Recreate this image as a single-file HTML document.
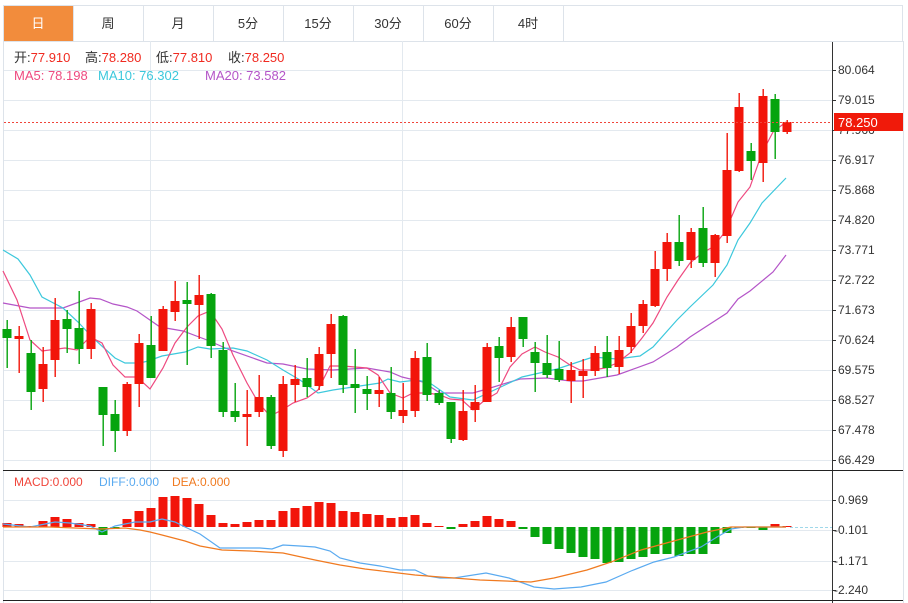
<!DOCTYPE html>
<html><head><meta charset="utf-8"><style>
html,body{margin:0;padding:0;background:#fff;width:908px;height:603px;overflow:hidden}
svg{display:block;font-family:"Liberation Sans","Noto Sans CJK SC",sans-serif}
</style></head><body>
<svg id="s" width="908" height="603" viewBox="0 0 908 603" xmlns="http://www.w3.org/2000/svg">
<rect x="0" y="0" width="908" height="603" fill="#fff"/>
<rect x="3.5" y="5.5" width="899" height="36" fill="#fff" stroke="#dde3ea"/>
<rect x="4" y="6" width="69" height="35" fill="#f28c3c"/>
<g stroke="#dde3ea"><line x1="73.5" y1="6" x2="73.5" y2="41"/><line x1="143.5" y1="6" x2="143.5" y2="41"/><line x1="213.5" y1="6" x2="213.5" y2="41"/><line x1="283.5" y1="6" x2="283.5" y2="41"/><line x1="353.5" y1="6" x2="353.5" y2="41"/><line x1="423.5" y1="6" x2="423.5" y2="41"/><line x1="493.5" y1="6" x2="493.5" y2="41"/><line x1="563.5" y1="6" x2="563.5" y2="41"/></g>
<g font-size="13" text-anchor="middle" fill="#333"><text x="38" y="28" fill="#fff">日</text><text x="108" y="28">周</text><text x="178" y="28">月</text><text x="248" y="28">5分</text><text x="318" y="28">15分</text><text x="388" y="28">30分</text><text x="458" y="28">60分</text><text x="528" y="28">4时</text></g>
<line x1="3.5" y1="41" x2="3.5" y2="603" stroke="#dde3ea"/>
<line x1="903.5" y1="41" x2="903.5" y2="603" stroke="#dde3ea"/>
<line x1="150.5" y1="41" x2="150.5" y2="603" stroke="#e3e9ef"/>
<line x1="402.5" y1="41" x2="402.5" y2="603" stroke="#e3e9ef"/>
<g id="grid" stroke="#e3e9ef"></g>
<line x1="832.5" y1="42" x2="832.5" y2="603" stroke="#333"/>
<g font-size="12" fill="#333" id="ylab">
<text x="838" y="74">80.064</text><text x="838" y="104">79.015</text><text x="838" y="134">77.966</text><text x="838" y="164">76.917</text><text x="838" y="194">75.868</text><text x="838" y="224">74.820</text><text x="838" y="254">73.771</text><text x="838" y="284">72.722</text><text x="838" y="314">71.673</text><text x="838" y="344">70.624</text><text x="838" y="374">69.575</text><text x="838" y="404">68.527</text><text x="838" y="434">67.478</text><text x="838" y="464">66.429</text>
<text x="838" y="504">0.969</text><text x="834" y="534">-0.101</text><text x="834" y="565">-1.171</text><text x="834" y="594">-2.240</text>
</g>
<g id="c"></g>
<line x1="4" y1="122.5" x2="832" y2="122.5" stroke="#f0453a" stroke-dasharray="2,2"/>
<rect x="834" y="113" width="69" height="18" fill="#f01a0a"/>
<text x="838" y="127" font-size="13" fill="#fff">78.250</text>
<g font-size="13"><text x="14" y="62" fill="#333">开:<tspan fill="#f02a20">77.910</tspan></text><text x="85" y="62" fill="#333">高:<tspan fill="#f02a20">78.280</tspan></text><text x="156" y="62" fill="#333">低:<tspan fill="#f02a20">77.810</tspan></text><text x="228" y="62" fill="#333">收:<tspan fill="#f02a20">78.250</tspan></text>
<text x="14" y="80" fill="#ee4a80">MA5: 78.198</text><text x="98" y="80" fill="#3cc8dc">MA10: 76.302</text><text x="205" y="80" fill="#b455c8">MA20: 73.582</text></g>
<line x1="3" y1="470.5" x2="903" y2="470.5" stroke="#222"/>
<line x1="3" y1="600.5" x2="903" y2="600.5" stroke="#222"/>
<g font-size="12"><text x="14" y="486" fill="#f0453a">MACD:0.000</text><text x="99" y="486" fill="#5aaaf0">DIFF:0.000</text><text x="172" y="486" fill="#f07a20">DEA:0.000</text></g>
<g id="m"></g>
</svg>
<script>
var NS="http://www.w3.org/2000/svg";
function el(p,t,a){var e=document.createElementNS(NS,t);for(var k in a)e.setAttribute(k,a[k]);p.appendChild(e);return e;}
var g=document.getElementById('grid');
[70,100,130,160,190,220,250,280,310,340,370,400,430,460,500,530,561,590].forEach(function(y){el(g,'line',{x1:4,x2:832,y1:y+.5,y2:y+.5});el(g,'line',{x1:832,x2:836,y1:y+.5,y2:y+.5,stroke:'#333'});});
var C=[[329,338,320,368,0],[336,339,326,373,1],[353,392,340,410,0],[364,389,347,402,1],[320,360,298,377,1],[319,329,310,353,0],[328,349,291,364,0],[309,349,303,359,1],[387,415,387,446,0],[414,431,400,452,0],[384,431,382,436,1],[343,384,334,407,1],[345,378,316,378,0],[309,351,306,351,1],[301,312,281,321,1],[300,304,282,365,0],[295,305,275,339,1],[294,346,293,358,0],[350,412,342,417,0],[411,417,383,422,0],[414,417,390,446,1],[397,412,375,417,1],[397,446,395,449,0],[384,451,376,457,1],[379,385,365,402,1],[378,387,358,397,0],[354,386,347,390,1],[324,354,314,378,1],[316,385,315,393,0],[384,388,349,413,0],[389,394,376,410,0],[390,394,377,407,1],[393,412,367,419,0],[410,416,383,423,1],[358,411,351,417,1],[357,395,343,401,0],[393,403,390,405,0],[402,439,402,443,0],[411,440,390,441,1],[402,410,385,422,1],[347,402,343,402,1],[346,358,337,382,0],[327,357,317,362,1],[317,339,317,347,0],[352,363,342,392,0],[363,375,335,378,0],[369,380,341,382,0],[370,381,362,403,1],[371,376,359,398,1],[353,371,346,376,1],[352,368,336,377,0],[350,367,336,374,1],[326,347,313,353,1],[304,326,300,333,1],[269,306,251,307,1],[242,269,233,281,1],[242,261,215,266,0],[232,260,228,268,1],[228,263,207,267,0],[235,263,234,277,1],[170,236,133,243,1],[107,171,93,172,1],[151,161,143,180,0],[96,163,89,182,1],[99,132,94,159,0],[122,132,120,134,1]];
var cg=document.getElementById('c');
function pl(pts,col){el(cg,'polyline',{points:pts.map(function(p){return p.join(',')}).join(' '),fill:'none',stroke:col,'stroke-width':1.2});}
pl([[3,303],[30,308],[63,308],[90,298],[100,299],[113,304],[127,307],[137,311],[160,327],[183,331],[207,340],[230,350],[267,363],[283,364],[307,369],[333,370],[367,368],[390,372],[402,377],[423,382],[440,393],[473,393],[487,389],[510,382],[520,379],[547,378],[570,381],[583,381],[617,375],[653,362],[677,347],[690,337],[727,313],[738,299],[750,291],[773,272],[786,255]],'#b455c8');
pl([[3,250],[18,259],[30,275],[42,297],[63,308],[78,322],[93,338],[115,358],[125,363],[140,363],[148,361],[162,356],[185,352],[198,347],[210,349],[233,348],[247,351],[267,360],[283,370],[300,380],[318,393],[333,390],[353,387],[380,383],[388,379],[400,382],[417,380],[430,383],[450,397],[473,400],[522,377],[557,369],[593,357],[617,359],[640,356],[653,347],[677,320],[690,307],[713,285],[727,265],[738,240],[750,223],[762,203],[786,178]],'#3cc8dc');
pl([[3,271],[17,300],[30,340],[42,351],[65,348],[77,350],[90,337],[102,343],[113,365],[125,377],[137,377],[150,389],[163,368],[175,343],[187,327],[198,316],[210,311],[222,329],[233,355],[247,383],[258,402],[270,416],[282,410],[293,403],[307,398],[318,390],[330,366],[343,366],[367,368],[378,375],[390,393],[403,398],[413,393],[428,393],[440,395],[450,399],[462,400],[473,410],[485,400],[497,393],[510,367],[522,354],[535,347],[545,352],[558,357],[570,365],[580,370],[593,370],[605,368],[617,363],[630,353],[642,338],[653,323],[667,297],[678,280],[690,263],[702,253],[713,247],[725,232],[738,202],[750,187],[762,153],[773,132],[786,122]],'#ee4a80');
C.forEach(function(c,i){var x=7+12*i,col=c[4]?'#f2150a':'#06a40e';
el(cg,'rect',{x:x-0.5,y:c[2],width:1.4,height:c[3]-c[2],fill:col});
el(cg,'rect',{x:x-4.5,y:c[0],width:9,height:Math.max(1.5,c[1]-c[0]),fill:col});});
var M=[523,524,526,521,517,519,523,524,535,529,519,511,508,497,496,498,504,515,523,524,522,520,520,511,508,506,502,503,511,512,514,515,518,517,515,523,526,529,524,521,516,519,521,529,537,544,549,553,557,559,563,562,559,557,554,554,556,554,554,544,533,528,528,530,524,526];
var mg=document.getElementById('m');var Z=527;
M.forEach(function(v,i){var x=7+12*i;var up=v<Z;el(mg,'rect',{x:x-4.5,y:Math.min(v,Z),width:9,height:Math.max(1,Math.abs(v-Z)),fill:up?'#f2150a':'#06a40e'});});
el(mg,'line',{x1:790,x2:832,y1:527.5,y2:527.5,stroke:'#9fd8ea','stroke-dasharray':'3,2'});
function ml(pts,col){el(mg,'polyline',{points:pts.map(function(p){return p.join(',')}).join(' '),fill:'none',stroke:col,'stroke-width':1.2});}
ml([[3,524],[30,527],[55,522],[70,523],[90,526],[102,532],[115,526],[135,522],[150,522],[162,519],[175,522],[185,527],[200,534],[220,548],[235,548],[260,548],[272,549],[283,545],[300,546],[315,547],[330,551],[340,558],[360,563],[380,566],[400,570],[415,570],[428,576],[440,578],[454,578],[486,573],[509,578],[534,587],[554,589],[581,587],[606,582],[631,571],[654,562],[674,557],[701,547],[717,537],[731,529],[744,527],[786,527]],'#5aaaf0');
ml([[3,527],[50,527],[100,529],[125,528],[140,530],[150,532],[162,535],[185,541],[200,546],[222,550],[250,551],[283,553],[315,560],[340,565],[365,569],[390,572],[415,575],[440,577],[454,578],[480,580],[531,582],[554,578],[587,570],[611,562],[641,550],[681,539],[707,532],[731,527],[786,527]],'#f07a20');
</script>
</body></html>
